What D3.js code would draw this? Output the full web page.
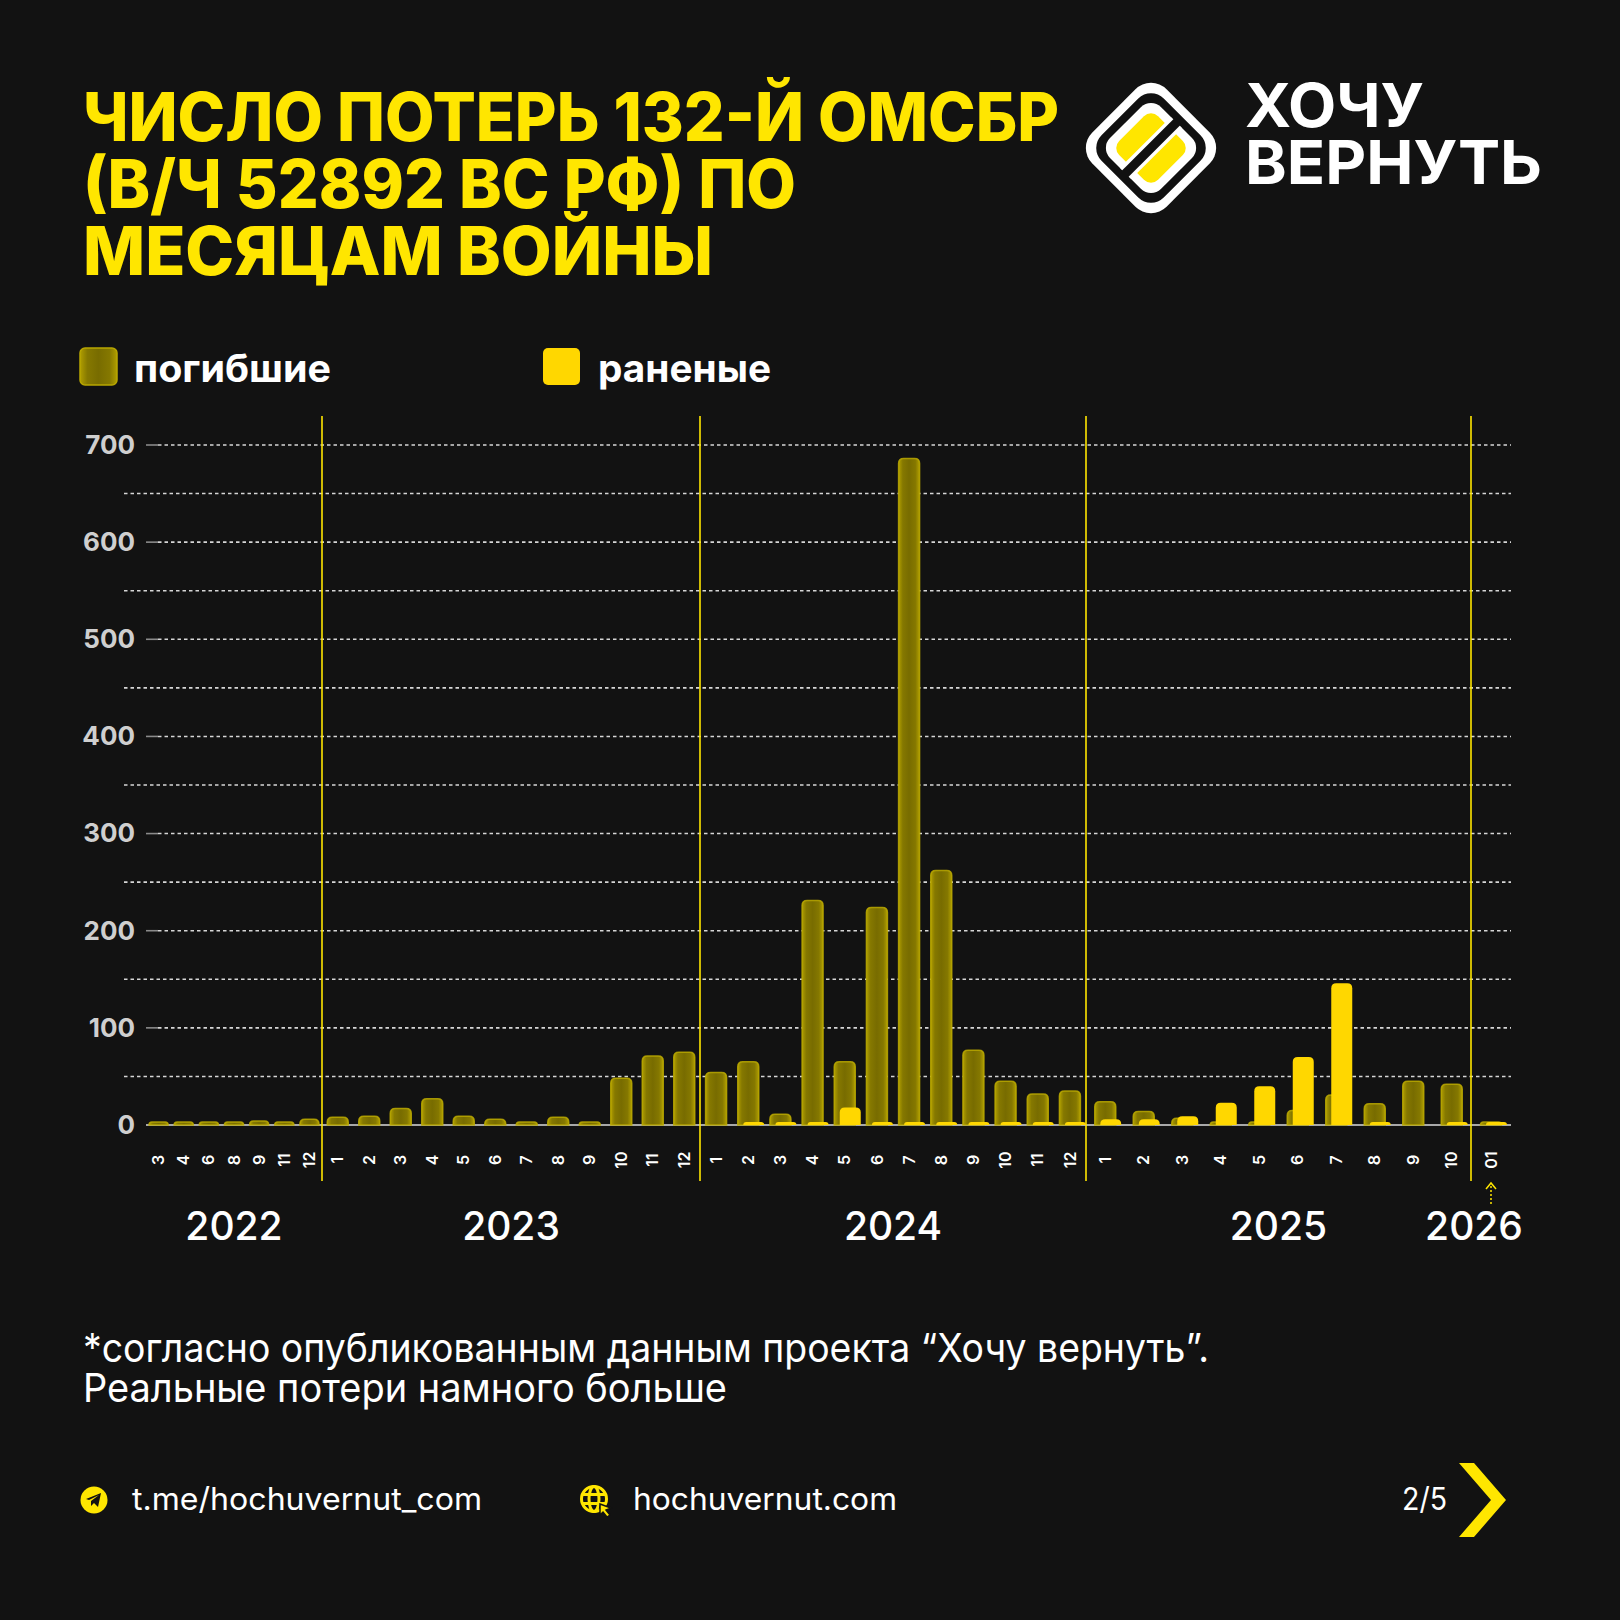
<!DOCTYPE html>
<html><head><meta charset="utf-8">
<script src="https://cdn.jsdelivr.net/npm/d3@7"></script>
<style>body{margin:0;background:#121212;} svg{display:block;}</style>
</head><body>
<script>
// ---------- DATA ----------
const years = ["2022", "2023", "2024", "2025", "2026"];
const months2022 = ["3", "4", "6", "8", "9", "11", "12"];
const months2023 = ["1","2","3","4","5","6","7","8","9","10","11","12"];
const months2024 = ["1","2","3","4","5","6","7","8","9","10","11","12"];
const months2025 = ["1","2","3","4","5","6","7","8","9","10"];
const months2026 = ["01"];
const killed2022 = [1, 1, 1, 1, 4, 3, 6];
const killed2023 = [8, 9, 17, 27, 9, 6, 3, 8, 1, 48, 71, 75];
const killed2024 = [54, 65, 11, 231, 65, 224, 686, 262, 77, 45, 32, 35];
const killed2025 = [24, 14, 7, 2, 2, 15, 31, 22, 45, 42];
const killed2026 = [1];
const wounded2022 = [0, 0, 0, 0, 0, 0, 0];
const wounded2023 = [0, 0, 0, 0, 0, 0, 0, 0, 0, 0, 0, 0];
const wounded2024 = [0, 3, 1, 1, 18, 1, 3, 1, 1, 1, 3, 1];
const wounded2025 = [6, 6, 9, 23, 40, 70, 146, 3, 0, 3];
const wounded2026 = [1];
const yTicks = [0, 100, 200, 300, 400, 500, 600, 700];
const yMinorTicks = [50, 150, 250, 350, 450, 550, 650];

const titleLines = ["ЧИСЛО ПОТЕРЬ 132-Й ОМСБР", "(В/Ч 52892 ВС РФ) ПО", "МЕСЯЦАМ ВОЙНЫ"];
const legendLabels = ["погибшие", "раненые"];
const noteLines = ["*согласно опубликованным данным проекта “Хочу вернуть”.", "Реальные потери намного больше"];

const monthsByYear = [months2022, months2023, months2024, months2025, months2026];
const killedByYear = [killed2022, killed2023, killed2024, killed2025, killed2026];
const woundedByYear = [wounded2022, wounded2023, wounded2024, wounded2025, wounded2026];

// ---------- LAYOUT ----------
const W = 1620, H = 1620;
const BG = "#121212", YEL = "#FFE600", WYEL = "#FFD700";
const plotLeft = 146, plotRight = 1511;
const yearEdges = [146, 322, 700, 1086, 1471, 1511];
const FONT = "Inter, 'Noto Sans', sans-serif";

const svg = d3.select("body").append("svg").attr("width", W).attr("height", H);
svg.append("rect").attr("width", W).attr("height", H).attr("fill", BG);

const defs = svg.append("defs");
const kg = defs.append("linearGradient").attr("id", "kg").attr("x1", 0).attr("x2", 1).attr("y1", 0).attr("y2", 0);
[[0, "#b09e00"], [0.2, "#857800"], [0.5, "#786c00"], [0.8, "#857800"], [1, "#b09e00"]]
  .forEach(([o, c]) => kg.append("stop").attr("offset", o).attr("stop-color", c));

function fit(sel, target) {
  const w = sel.node().getComputedTextLength();
  if (Math.abs(w - target) / target > 0.01) sel.attr("textLength", target).attr("lengthAdjust", "spacingAndGlyphs");
}

// ---------- TITLE ----------
const titleBase = [141, 208, 275], titleW = [976, 713, 630];
titleLines.forEach((t, i) => {
  const s = svg.append("text").attr("x", 83).attr("y", titleBase[i]).text(t)
    .attr("fill", YEL).attr("font-family", FONT).attr("font-weight", 800).attr("font-size", 67);
  fit(s, titleW[i]);
});

// ---------- LOGO ----------
const logo = svg.append("g").attr("transform", "translate(1151,148) rotate(45)");
[[105, 22, "#ffffff"], [88, 18, "#111111"], [72, 14, "#ffffff"], [55, 10, YEL]].forEach(([s, r, c]) =>
  logo.append("rect").attr("x", -s / 2).attr("y", -s / 2).attr("width", s).attr("height", s).attr("rx", r).attr("fill", c));
logo.append("rect").attr("x", -8).attr("y", -36).attr("width", 16).attr("height", 72).attr("fill", "#ffffff");
logo.append("rect").attr("x", -4.5).attr("y", -40).attr("width", 9).attr("height", 80).attr("fill", "#111111");
const l1 = svg.append("text").attr("x", 1245).attr("y", 127).text("ХОЧУ").attr("fill", "#fff")
  .attr("font-family", FONT).attr("font-weight", 700).attr("font-size", 60);
fit(l1, 179);
const l2 = svg.append("text").attr("x", 1245).attr("y", 184).text("ВЕРНУТЬ").attr("fill", "#fff")
  .attr("font-family", FONT).attr("font-weight", 700).attr("font-size", 60);
fit(l2, 297);

// ---------- LEGEND ----------
const legX = [80, 543], legTX = [134, 598], legTW = [197, 173];
legendLabels.forEach((lab, i) => {
  svg.append("rect").attr("x", legX[i]).attr("y", 348).attr("width", 37).attr("height", 37).attr("rx", 5)
    .attr("fill", i === 0 ? "url(#kg)" : WYEL)
    .attr("stroke", i === 0 ? "#b8a600" : "none").attr("stroke-width", 1.5);
  const s = svg.append("text").attr("x", legTX[i]).attr("y", 382).text(lab).attr("fill", "#fff")
    .attr("font-family", FONT).attr("font-weight", 700).attr("font-size", 38);
  fit(s, legTW[i]);
});

// ---------- SCALES ----------
const y = d3.scaleLinear().domain([0, 700]).range([1125, 445]);
const xScales = years.map((yr, i) =>
  d3.scaleBand().domain(monthsByYear[i]).range([yearEdges[i], yearEdges[i + 1]]).paddingInner(0).paddingOuter(0));

// gridlines
const grid = svg.append("g");
yMinorTicks.forEach(v => grid.append("line").attr("x1", 124).attr("x2", plotRight).attr("y1", y(v)).attr("y2", y(v))
  .attr("stroke", "#d6d6d6").attr("stroke-width", 1.6).attr("stroke-dasharray", "3.5,3"));
yTicks.filter(v => v > 0).forEach(v => {
  grid.append("line").attr("x1", 146).attr("x2", 158).attr("y1", y(v)).attr("y2", y(v)).attr("stroke", "#8a8a8a").attr("stroke-width", 1.6);
  grid.append("line").attr("x1", 158).attr("x2", plotRight).attr("y1", y(v)).attr("y2", y(v))
    .attr("stroke", "#d6d6d6").attr("stroke-width", 1.6).attr("stroke-dasharray", "3.5,3");
});
// baseline
svg.append("line").attr("x1", plotLeft).attr("x2", plotRight).attr("y1", y(0)).attr("y2", y(0))
  .attr("stroke", "#a8a8a8").attr("stroke-width", 2);

// y axis labels
const yAxis = svg.append("g").attr("transform", "translate(135,0)")
  .call(d3.axisLeft(y).tickValues(yTicks).tickSize(0).tickPadding(0));
yAxis.select(".domain").remove();
yAxis.selectAll("text").attr("fill", "#cfcfcf").attr("font-family", FONT).attr("font-weight", 700).attr("font-size", 26);

// year separators
yearEdges.slice(1, 5).forEach(x => svg.append("line").attr("x1", x).attr("x2", x).attr("y1", 416).attr("y2", 1181)
  .attr("stroke", YEL).attr("stroke-width", 1.6));

// ---------- BARS ----------
function topRounded(x, yTop, w, yBase, r) {
  const h = yBase - yTop; r = Math.min(r, h, w / 2);
  return `M${x},${yBase}L${x},${yTop + r}Q${x},${yTop} ${x + r},${yTop}L${x + w - r},${yTop}Q${x + w},${yTop} ${x + w},${yTop + r}L${x + w},${yBase}Z`;
}
const bars = svg.append("g");
years.forEach((yr, i) => {
  const xs = xScales[i];
  const step = xs.step();
  const bw = Math.min(21, step - 6);
  const rows = monthsByYear[i].map((m, j) => ({ m, k: killedByYear[i][j], w: woundedByYear[i][j] }));
  rows.forEach(d => {
    const cx = xs(d.m) + xs.bandwidth() / 2;
    if (d.k > 0) {
      const top = Math.min(y(d.k), y(0) - 3);
      bars.append("path").attr("d", topRounded(cx - bw / 2, top, bw, y(0), 5))
        .attr("fill", "url(#kg)").attr("stroke", "#bba900").attr("stroke-width", 1.5).attr("stroke-opacity", 0.85);
    }
  });
  rows.forEach(d => {
    const cx = xs(d.m) + xs.bandwidth() / 2;
    if (d.w > 0) {
      const top = Math.min(y(d.w), y(0) - 3);
      bars.append("path").attr("d", topRounded(cx - bw / 2 + 5.5, top, bw, y(0), 5)).attr("fill", WYEL);
    }
  });
  // month labels
  const ax = svg.append("g").attr("transform", "translate(0,1160)").call(d3.axisBottom(xs).tickSize(0));
  ax.select(".domain").remove();
  ax.selectAll("text").attr("transform", "rotate(-90)").attr("x", 0).attr("y", 0).attr("dy", "0.35em")
    .attr("text-anchor", "middle").attr("fill", "#fff").attr("font-family", FONT).attr("font-weight", 600).attr("font-size", 16);
  // year label
  const center = (yearEdges[i] + yearEdges[i + 1]) / 2;
  svg.append("text").attr("x", Math.min(center, plotRight - 37)).attr("y", 1240).attr("text-anchor", "middle").text(yr)
    .attr("fill", "#fff").attr("font-family", FONT).attr("font-weight", 500).attr("font-size", 39);
});

// dotted arrow under the last month
{
  const xs = xScales[4];
  const ax = xs(months2026[0]) + xs.bandwidth() / 2;
  svg.append("line").attr("x1", ax).attr("x2", ax).attr("y1", 1204).attr("y2", 1186)
    .attr("stroke", YEL).attr("stroke-width", 1.5).attr("stroke-dasharray", "2,2");
  svg.append("path").attr("d", `M${ax - 5},${1189}L${ax},${1183}L${ax + 5},${1189}`)
    .attr("fill", "none").attr("stroke", YEL).attr("stroke-width", 1.5);
}

// ---------- FOOTNOTE ----------
const noteW = [1126, 644], noteB = [1362, 1402];
noteLines.forEach((t, i) => {
  const s = svg.append("text").attr("x", 83).attr("y", noteB[i]).text(t).attr("fill", "#fff")
    .attr("font-family", FONT).attr("font-weight", 400).attr("font-size", 39);
  fit(s, noteW[i]);
});

// ---------- FOOTER ----------
svg.append("circle").attr("cx", 94).attr("cy", 1500).attr("r", 13.5).attr("fill", YEL);
svg.append("path").attr("d", "M86,1499 L101,1493 L98,1507 L94,1503 L91,1506 L91,1501 L99,1495 L89,1500 Z").attr("fill", BG);
const f1 = svg.append("text").attr("x", 132).attr("y", 1510).text("t.me/hochuvernut_com").attr("fill", "#fff")
  .attr("font-family", FONT).attr("font-size", 31);
fit(f1, 350);
const gl = svg.append("g").attr("transform", "translate(594,1499)").attr("fill", "none").attr("stroke", YEL).attr("stroke-width", 3);
gl.append("circle").attr("r", 12.5);
gl.append("ellipse").attr("rx", 5).attr("ry", 12.5);
gl.append("line").attr("x1", -12).attr("x2", 12).attr("y1", -4.5).attr("y2", -4.5);
gl.append("line").attr("x1", -12).attr("x2", 12).attr("y1", 4.5).attr("y2", 4.5);
svg.append("path").attr("d", "M600,1504 L611,1508 L606,1510 L610,1515 L607,1517 L603,1512 L600,1515 Z").attr("fill", YEL)
  .attr("stroke", BG).attr("stroke-width", 1.5);
const f2 = svg.append("text").attr("x", 633).attr("y", 1510).text("hochuvernut.com").attr("fill", "#fff")
  .attr("font-family", FONT).attr("font-size", 31);
fit(f2, 264);
const f3 = svg.append("text").attr("x", 1402).attr("y", 1510).text("2/5").attr("fill", "#fff")
  .attr("font-family", FONT).attr("font-size", 31);
fit(f3, 45);
svg.append("path").attr("d", "M1459,1463 L1474,1463 L1506,1500 L1474,1537 L1459,1537 L1491,1500 Z").attr("fill", YEL);
</script>
</body></html>
